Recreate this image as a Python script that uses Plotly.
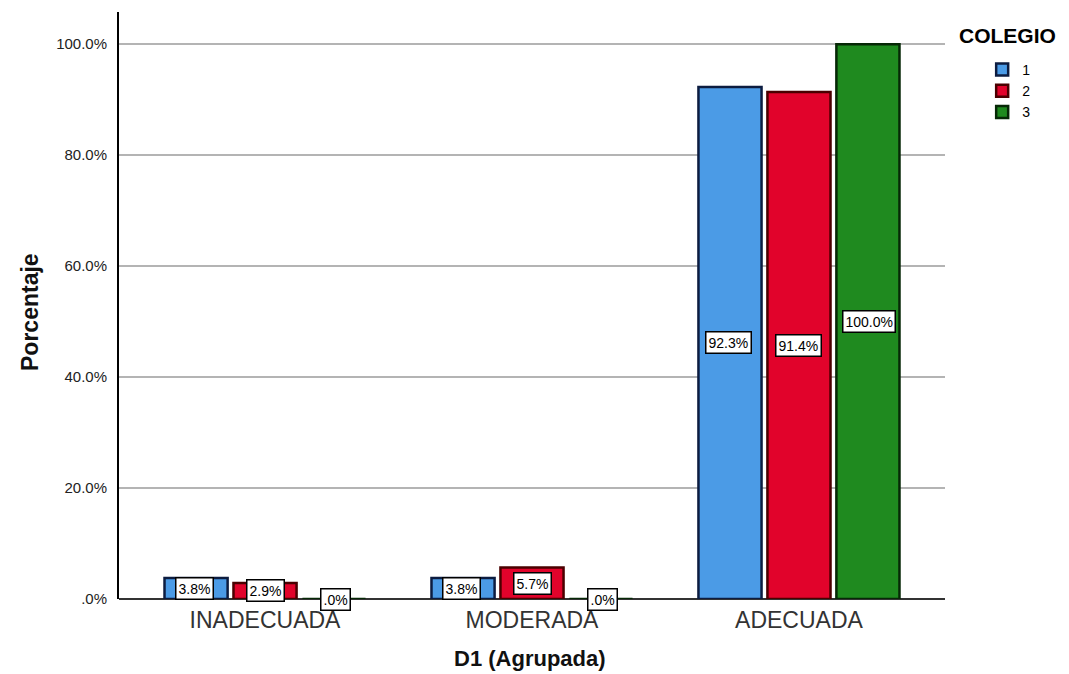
import plotly.graph_objects as go

categories = ["INADECUADA", "MODERADA", "ADECUADA"]
series_names = ["1", "2", "3"]
values_1 = [3.8, 3.8, 92.3]
values_2 = [2.9, 5.7, 91.4]
values_3 = [0.0, 0.0, 100.0]
y_ticks = [0, 20, 40, 60, 80, 100]
y_tick_labels = [".0%", "20.0%", "40.0%", "60.0%", "80.0%", "100.0%"]

fills = ["#4b9be6", "#e1032b", "#1f8a1f"]
edges = ["#0c1c40", "#4a0000", "#062806"]
all_values = [values_1, values_2, values_3]

FONT = "Liberation Sans, Arial, sans-serif"
W, H = 1069, 674
L, R, T, B = 119, 124, 12, 75
PW, PH = W - L - R, H - T - B

fig = go.Figure()
for name, vals, fc, ec in zip(series_names, all_values, fills, edges):
    fig.add_trace(go.Bar(
        x=categories, y=vals, name=name,
        marker=dict(color=fc, line=dict(color=ec, width=2.5)),
        offsetgroup=name,
    ))

# value labels in white boxes at the middle of each bar
n = len(series_names)
for i, vals in enumerate(all_values):
    for j, v in enumerate(vals):
        txt = (".0%" if v == 0 else f"{v:.1f}%")
        fig.add_annotation(
            x=j, y=v / 2, xref="x", yref="y",
            text=txt, showarrow=False,
            xshift=(i - (n - 1) / 2) * 70.5,
            font=dict(family=FONT, size=14, color="black"),
            bgcolor="white", bordercolor="black", borderwidth=1.5, borderpad=2,
        )

# legend heading
fig.add_annotation(
    x=1.0, y=(H - B - 35) / PH, xref="paper", yref="paper",
    xshift=12, xanchor="left", yanchor="middle",
    text="<b>COLEGIO</b>", showarrow=False,
    font=dict(family=FONT, size=21, color="black"),
)

# axis titles
fig.add_annotation(
    x=(530 - L) / PW, y=0, xref="paper", yref="paper",
    yshift=-(658 - (H - B)), xanchor="center", yanchor="middle",
    text="<b>D1 (Agrupada)</b>", showarrow=False,
    font=dict(family=FONT, size=22, color="#111"),
)
fig.add_annotation(
    x=0, y=(H - B - 312) / PH, xref="paper", yref="paper",
    xshift=-(L - 30), xanchor="center", yanchor="middle",
    text="<b>Porcentaje</b>", showarrow=False, textangle=-90,
    font=dict(family=FONT, size=23, color="#111"),
)

fig.update_layout(
    width=W, height=H,
    margin=dict(l=L, r=R, t=T, b=B, autoexpand=False),
    paper_bgcolor="white", plot_bgcolor="white",
    barmode="group", bargap=0.225, bargroupgap=0.085,
    font=dict(family=FONT, color="black"),
    showlegend=True,
    legend=dict(
        x=1.045, y=(H - B - 54) / PH, xanchor="left", yanchor="top",
        font=dict(family=FONT, size=14, color="black"),
        itemwidth=30, tracegroupgap=0,
    ),
    xaxis=dict(
        tickfont=dict(family=FONT, size=23, color="#333"),
        range=[-0.547, 2.547], automargin=False,
        showline=False, ticks="", showgrid=False,
        ticklabelstandoff=5,
    ),
    yaxis=dict(
        range=[0, 105.8], automargin=False,
        tickvals=y_ticks, ticktext=y_tick_labels,
        tickfont=dict(family=FONT, size=15, color="#222"),
        showgrid=True, gridcolor="#b4b4b4", gridwidth=1.5,
        zeroline=True, zerolinecolor="#333", zerolinewidth=1.5,
        showline=True, linecolor="black", linewidth=2,
        ticks="", ticklen=0, ticklabelstandoff=7,
    ),
)

fig.write_html("out.html")
